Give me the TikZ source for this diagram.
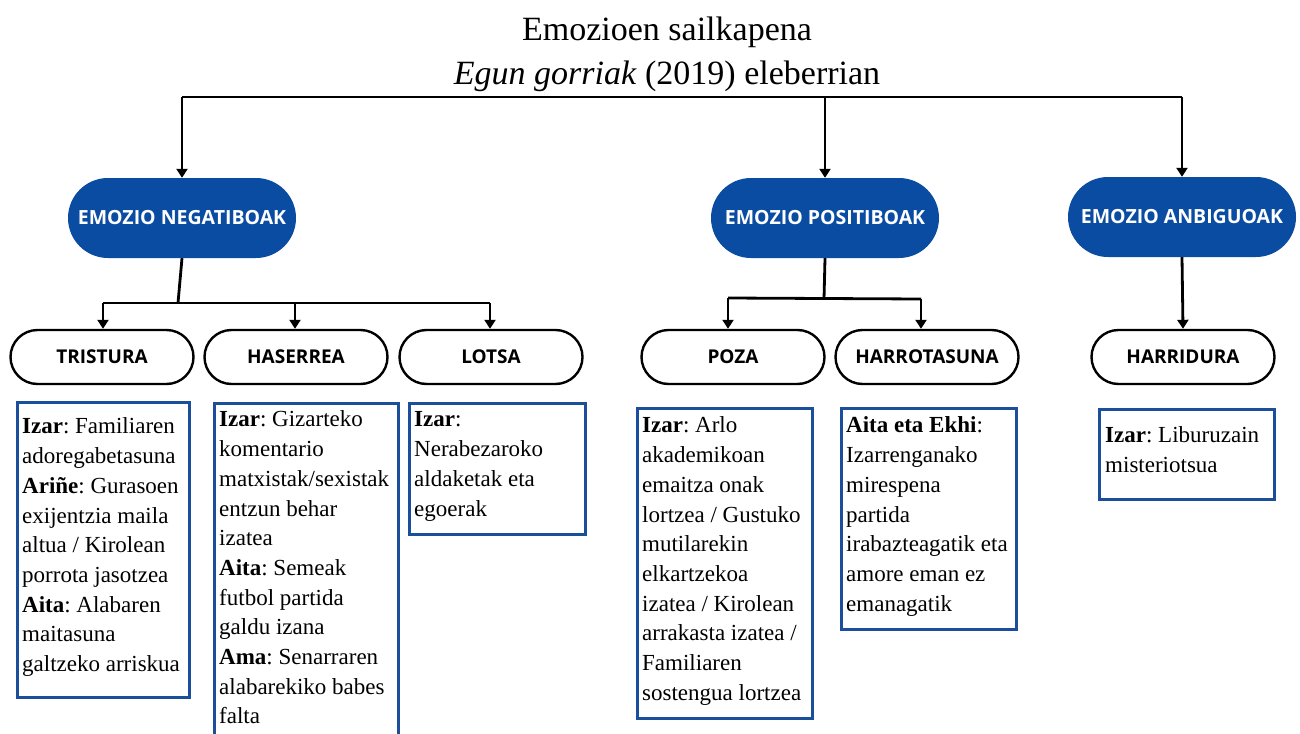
\documentclass[tikz,border=0pt]{standalone}
\usepackage{fontspec}
\setmainfont{Liberation Serif}
\newfontfamily\labelfont{Open Sans}
\usetikzlibrary{arrows.meta}
\definecolor{ovalblue}{RGB}{11,76,163}
\definecolor{boxblue}{RGB}{27,79,155}
\frenchspacing
\tikzset{
  conn/.style={line width=2.8pt, black},
  arr/.style={conn, -{Triangle[width=11pt,length=9pt]}},
  mainoval/.style={rectangle, rounded corners=40pt, fill=ovalblue, text=white,
     minimum width=228pt, minimum height=80pt, inner sep=0pt,
     font=\labelfont\bfseries\fontsize{19.5}{21}\selectfont},
  suboval/.style={rectangle, rounded corners=27pt, draw=black, line width=2.4pt,
     minimum width=183pt, minimum height=54pt, inner sep=0pt,
     font=\labelfont\bfseries\fontsize{19}{21}\selectfont},
  infobox/.style={rectangle, draw=boxblue, line width=3.4pt, anchor=north west, inner sep=0pt},
  infotext/.style={anchor=north west, inner sep=0pt, align=left,
     font=\fontsize{23}{29.7}\selectfont},
}
\begin{document}
\begin{tikzpicture}[x=1pt,y=-1pt]
\clip (0,0) rectangle (1300,733);
\fill[white] (0,0) rectangle (1300,733);

% title
\node[font=\fontsize{34}{43.5}\selectfont, align=center, anchor=north, inner sep=0pt] (title) at (667,10)
  {\strut Emozioen sailkapena\\\textit{Egun gorriak} (2019) eleberrian};

% main ovals
\node[mainoval] (neg) at (182,218) {EMOZIO NEGATIBOAK};
\node[mainoval] (pos) at (825,218) {EMOZIO POSITIBOAK};
\node[mainoval] (anb) at (1182,217) {EMOZIO ANBIGUOAK};

% top connector
\coordinate (hl) at (182,97);
\coordinate (hr) at (1182,97);
\coordinate (hm) at (825,97);
\draw[conn] (hl) -- (hr);
\draw[arr] (hl) -- (neg.north);
\draw[arr] (hm) -- (pos.north);
\draw[arr] (hr) -- (anb.north);

% sub ovals
\node[suboval] (tri) at (102,357) {TRISTURA};
\node[suboval] (has) at (296,357) {HASERREA};
\node[suboval] (lot) at (491,357) {LOTSA};
\node[suboval] (poz) at (733,357) {POZA};
\node[suboval] (har) at (927,357) {HARROTASUNA};
\node[suboval] (hdu) at (1183,357) {HARRIDURA};

% negative branch
\coordinate (nj) at (178,303);
\coordinate (nl) at (103,303);
\coordinate (nr) at (490,303);
\coordinate (nm) at (295,303);
\draw[conn] (neg.south) -- (nj);
\draw[conn] (nl) -- (nr);
\draw[arr] (nl) -- (nl |- tri.north);
\draw[arr] (nm) -- (nm |- has.north);
\draw[arr] (nr) -- (nr |- lot.north);

% positive branch
\coordinate (pj) at (824,299);
\coordinate (pl) at (728,298);
\coordinate (pr) at (921,299);
\draw[conn] (pos.south) -- (pj);
\draw[conn] (pl) -- (pr);
\draw[arr] (pl) -- (pl |- poz.north);
\draw[arr] (pr) -- (pr |- har.north);

% ambiguous branch
\draw[arr] (anb.south) -- (hdu.north);

% info boxes
\node[infobox, minimum width=172pt, minimum height=295pt] (b1) at (16,401) {};
\node[infotext] (t1) at (22,413) {\strut\textbf{Izar}: Familiaren\\adoregabetasuna\\\textbf{Ariñe}: Gurasoen\\exijentzia maila\\altua / Kirolean\\porrota jasotzea\\\textbf{Aita}: Alabaren\\maitasuna\\galtzeko arriskua};

\node[infobox, minimum width=184pt, minimum height=345pt] (b2) at (213,402) {};
\node[infotext] (t2) at (219,406) {\strut\textbf{Izar}: Gizarteko\\komentario\\matxistak/sexistak\\entzun behar\\izatea\\\textbf{Aita}: Semeak\\futbol partida\\galdu izana\\\textbf{Ama}: Senarraren\\alabarekiko babes\\falta};

\node[infobox, minimum width=176pt, minimum height=131pt] (b3) at (408,402) {};
\node[infotext] (t3) at (414,406) {\strut\textbf{Izar}:\\Nerabezaroko\\aldaketak eta\\egoerak};

\node[infobox, minimum width=175pt, minimum height=310pt] (b4) at (636,407) {};
\node[infotext] (t4) at (642,412) {\strut\textbf{Izar}: Arlo\\akademikoan\\emaitza onak\\lortzea / Gustuko\\mutilarekin\\elkartzekoa\\izatea / Kirolean\\arrakasta izatea /\\Familiaren\\sostengua lortzea};

\node[infobox, minimum width=175pt, minimum height=221pt] (b5) at (840,407) {};
\node[infotext] (t5) at (846,412) {\strut\textbf{Aita eta Ekhi}:\\Izarrenganako\\mirespena\\partida\\irabazteagatik eta\\amore eman ez\\emanagatik};

\node[infobox, minimum width=175pt, minimum height=90pt] (b6) at (1098,408) {};
\node[infotext] (t6) at (1105,422) {\strut\textbf{Izar}: Liburuzain\\misteriotsua};
\end{tikzpicture}
\end{document}
